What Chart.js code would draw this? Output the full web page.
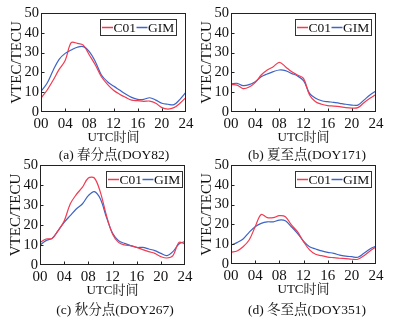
<!DOCTYPE html>
<html>
<head>
<meta charset="utf-8">
<script src="https://cdn.jsdelivr.net/npm/chart.js@4.4.1/dist/chart.umd.min.js"></script>
<style>
    html, body { margin: 0; padding: 0; background: #fff; }
    body { width: 395px; height: 318px; position: relative; overflow: hidden;
           font-family: 'Liberation Serif', 'Noto Serif CJK SC', 'Noto Sans CJK SC', serif; color: #111; }
    .panel { position: absolute; }
    .cap { position: absolute; font-size: 13.5px; white-space: nowrap; transform: translate(-50%, -50%); }
</style>
</head>
<body>
<canvas id="chA" class="panel" width="197" height="150" style="left:0;top:0"></canvas>
<canvas id="chB" class="panel" width="197" height="150" style="left:190px;top:0"></canvas>
<canvas id="chC" class="panel" width="197" height="151" style="left:-1px;top:152px"></canvas>
<canvas id="chD" class="panel" width="197" height="150" style="left:190px;top:152px"></canvas>
<div class="cap" style="left:114px;top:153px">(a) 春分点(DOY82)</div>
<div class="cap" style="left:307px;top:153px">(b) 夏至点(DOY171)</div>
<div class="cap" style="left:115px;top:308px">(c) 秋分点(DOY267)</div>
<div class="cap" style="left:307px;top:308px">(d) 冬至点(DOY351)</div>
<script>
// UTC hour of each sample
const HOURS = [0, 1, 2, 3, 4, 5, 6, 7, 8, 9, 10, 11, 12, 13, 14, 15, 16, 17, 18, 19, 20, 21, 22, 23, 24];
const X_TICKS = [0, 4, 8, 12, 16, 20, 24];
const X_LABELS = ['00', '04', '08', '12', '16', '20', '24'];
const Y_TICKS = [0, 10, 20, 30, 40, 50];

// (a) DOY82
const A_C01 = [7.0, 11.0, 16.0, 21.5, 26.0, 35.0, 34.7, 33.8, 28.8, 23.7, 17.8, 14.0, 11.0, 9.0, 7.4, 6.0, 5.7, 5.4, 5.5, 4.4, 2.2, 1.5, 2.2, 4.4, 7.4];
const A_GIM = [10.4, 14.5, 21.0, 26.6, 29.6, 31.3, 32.7, 33.0, 30.5, 25.4, 18.7, 15.3, 13.1, 11.1, 9.1, 7.4, 6.4, 6.4, 7.2, 6.0, 4.4, 3.9, 3.7, 6.4, 10.0];
// (b) DOY171
const B_C01 = [13.8, 13.6, 11.8, 12.6, 14.8, 18.7, 21.2, 22.9, 25.1, 22.9, 20.4, 18.7, 17.0, 8.6, 5.2, 3.9, 3.2, 3.0, 2.7, 2.2, 2.0, 2.2, 4.7, 6.9, 8.9];
const B_GIM = [14.1, 14.5, 13.3, 13.8, 15.3, 17.8, 19.2, 20.4, 21.2, 20.9, 19.5, 18.2, 15.8, 9.4, 6.9, 5.7, 5.2, 4.9, 4.4, 3.9, 3.5, 3.5, 6.0, 8.6, 10.6];
// (c) DOY267
const C_C01 = [11.3, 13.0, 13.3, 17.2, 22.0, 30.5, 35.2, 38.8, 43.5, 43.5, 36.3, 24.7, 15.5, 11.3, 10.0, 9.7, 8.8, 7.7, 6.7, 5.8, 4.2, 3.5, 4.7, 11.3, 10.5];
const C_GIM = [10.0, 12.2, 13.3, 17.2, 21.3, 24.7, 28.0, 30.5, 34.7, 36.7, 33.0, 23.8, 16.0, 12.2, 10.8, 9.7, 8.8, 8.8, 8.0, 7.2, 5.8, 4.7, 6.7, 10.5, 11.7];
// (d) DOY351
const D_C01 = [5.9, 6.6, 8.7, 12.1, 18.8, 25.0, 23.4, 23.4, 24.4, 23.9, 19.7, 16.3, 11.3, 7.1, 4.9, 4.2, 3.5, 3.2, 2.9, 2.7, 2.4, 2.4, 4.2, 6.6, 8.6];
const D_GIM = [9.6, 10.8, 12.6, 16.0, 18.8, 20.5, 21.3, 21.3, 22.2, 21.8, 18.8, 15.5, 11.6, 8.7, 7.6, 6.6, 5.9, 5.4, 4.5, 4.0, 3.7, 3.4, 5.4, 7.6, 9.1];

const RED = '#f23a50';
const BLUE = '#3d64c6';
const FONT = "'Liberation Serif', 'Noto Serif CJK SC', 'Noto Sans CJK SC', serif";
const INK = '#111';

// box around the plot, inward ticks and the boxed legend
const framePlugin = {
    id: 'frame',
    afterDraw(chart, args, opts) {
        const { ctx, chartArea: a } = chart;
        const xs = chart.scales.x, ys = chart.scales.y;
        const L = Math.round(a.left) + 0.5, R = Math.round(a.right) - 0.5;
        const T = Math.round(a.top) + 0.5, B = Math.round(a.bottom) - 0.5;
        ctx.save();
        ctx.strokeStyle = '#222';
        ctx.lineWidth = 1;
        ctx.strokeRect(L, T, R - L, B - T);
        ctx.beginPath();
        X_TICKS.slice(1, -1).forEach((v) => {
            const px = Math.round(xs.getPixelForValue(v)) + 0.5;
            ctx.moveTo(px, B); ctx.lineTo(px, B - 3);
        });
        Y_TICKS.slice(1, -1).forEach((v) => {
            const py = Math.round(ys.getPixelForValue(v)) + 0.5;
            ctx.moveTo(L, py); ctx.lineTo(L + 3, py);
        });
        ctx.stroke();

        // legend
        ctx.font = `13.5px ${FONT}`;
        ctx.textBaseline = 'middle';
        const items = chart.data.datasets.map((ds) => ({ label: ds.label, color: ds.borderColor, w: ctx.measureText(ds.label).width }));
        const lineW = 11;
        const boxW = Math.round(items.reduce((s, it) => s + lineW + 1 + it.w, 0) + 3);
        const boxH = 16;
        const x0 = Math.round(a.right - opts.right - boxW) + 0.5;
        const y0 = Math.round(a.top + 6) + 0.5;
        ctx.strokeStyle = '#333';
        ctx.strokeRect(x0, y0, boxW, boxH);
        let x = x0 + 1.5;
        const cy = y0 + boxH / 2;
        items.forEach((it) => {
            ctx.strokeStyle = it.color;
            ctx.lineWidth = 1.5;
            ctx.beginPath();
            ctx.moveTo(x, cy); ctx.lineTo(x + lineW, cy);
            ctx.stroke();
            x += lineW + 0.5;
            ctx.fillStyle = INK;
            ctx.fillText(it.label, x, cy + 1);
            x += it.w + 0.5;
        });
        ctx.restore();
    },
};

function series(values) {
    return HOURS.map((h, i) => ({ x: h, y: values[i] }));
}

function makeChart(id, c01, gim, legendRight) {
    return new Chart(document.getElementById(id), {
        type: 'line',
        data: {
            datasets: [
                { label: 'C01', data: series(c01), borderColor: RED, borderWidth: 1.2, pointRadius: 0, tension: 0.35, fill: false },
                { label: 'GIM', data: series(gim), borderColor: BLUE, borderWidth: 1.2, pointRadius: 0, tension: 0.35, fill: false },
            ],
        },
        options: {
            responsive: false,
            animation: false,
            devicePixelRatio: 1,
            layout: { padding: { top: 13, right: 11, left: 0, bottom: 0 } },
            plugins: { legend: { display: false }, tooltip: { enabled: false }, frame: { right: legendRight } },
            scales: {
                x: {
                    type: 'linear', min: 0, max: 24,
                    afterBuildTicks: (s) => { s.ticks = X_TICKS.map((v) => ({ value: v })); },
                    afterFit: (s) => { s.height = 38; },
                    grid: { display: false, drawTicks: false },
                    border: { display: false },
                    ticks: { autoSkip: false, maxRotation: 0, padding: 3, color: INK, font: { family: FONT, size: 15 },
                             callback: (v) => X_LABELS[X_TICKS.indexOf(v)] },
                    title: { display: true, text: 'UTC时间', color: INK, font: { family: FONT, size: 13 }, padding: { top: 0, bottom: 5 } },
                },
                y: {
                    min: 0, max: 50,
                    afterBuildTicks: (s) => { s.ticks = Y_TICKS.map((v) => ({ value: v })); },
                    afterFit: (s) => { s.width = 41; },
                    grid: { display: false, drawTicks: false },
                    border: { display: false },
                    ticks: { autoSkip: false, padding: 2, color: INK, font: { family: FONT, size: 14.5 } },
                    title: { display: true, text: 'VTEC/TECU', color: INK, font: { family: FONT, size: 15 }, padding: { top: 8, bottom: 0 } },
                },
            },
        },
        plugins: [framePlugin],
    });
}

makeChart('chA', A_C01, A_GIM, 10);
makeChart('chB', B_C01, B_GIM, 5);
makeChart('chC', C_C01, C_GIM, 3);
makeChart('chD', D_C01, D_GIM, 5);
</script>
</body>
</html>
